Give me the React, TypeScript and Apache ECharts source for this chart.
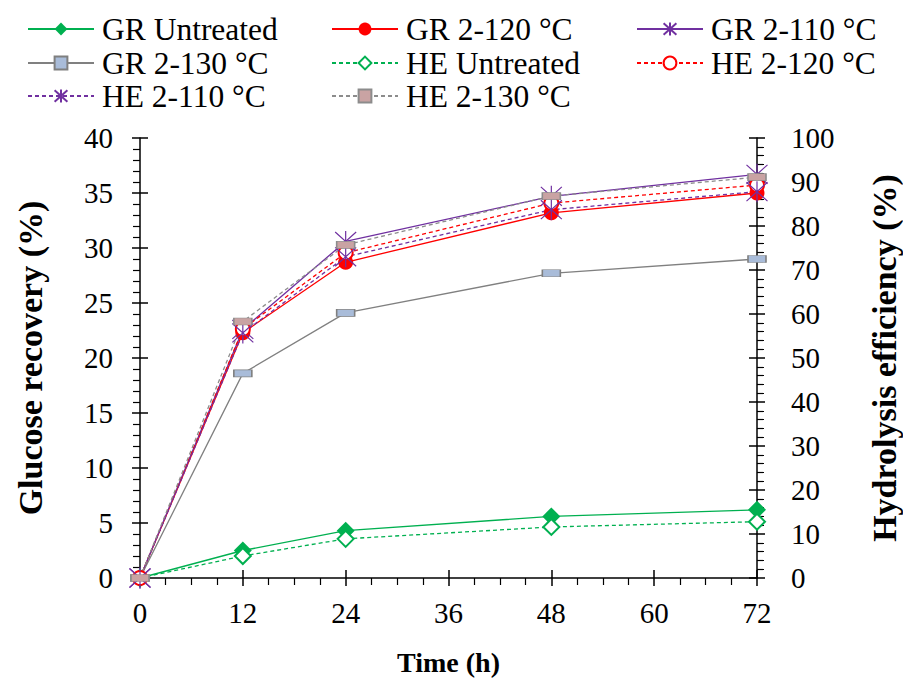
import React, { useEffect, useRef } from "react";
import * as echarts from "echarts";

const times = [0, 12, 24, 48, 72];
const grUntreated = [0, 2.5, 4.3, 5.6, 6.2];
const gr120 = [0, 22.3, 28.7, 33.2, 35.0];
const gr110 = [0, 22.6, 30.6, 34.7, 36.7];
const gr130 = [0, 18.6, 24.1, 27.7, 29.0];
const heUntreated = [0, 5.0, 8.9, 11.6, 12.8];
const he120 = [0, 56.6, 73.9, 85.2, 89.3];
const he110 = [0, 55.7, 73.0, 83.7, 87.8];
const he130 = [0, 58.3, 75.7, 86.8, 91.1];

const seriesNames = [
  "GR Untreated",
  "GR 2-120 °C",
  "GR 2-110 °C",
  "GR 2-130 °C",
  "HE Untreated",
  "HE 2-120 °C",
  "HE 2-110 °C",
  "HE 2-130 °C",
];

const FONT = "'Liberation Serif', 'Times New Roman', serif";
const STAR = "path://M0,-10 L0,10 M-9,-9 L9,9 M-9,9 L9,-9";

const GREEN = "#00b050";
const RED = "#ff0000";
const PURPLE = "#7030a0";
const GRAY = "#808080";

function pairs(vals: number[]) {
  return vals.map((v, i) => [times[i], v]);
}

export default function App() {
  const ref = useRef<HTMLDivElement>(null);
  useEffect(() => {
    if (!ref.current) return;
    const chart = echarts.init(ref.current, undefined, { renderer: "svg" });

    const legendPos = [
      [27, 13],
      [331, 13],
      [636, 13],
      [27, 47],
      [331, 47],
      [636, 47],
      [27, 80],
      [331, 80],
    ];

    const axisLine = { show: true, onZero: false, lineStyle: { color: "#000", width: 1.5 } };
    const noLine = { show: false, onZero: false };
    const labelStyle = { fontFamily: FONT, fontSize: 29, color: "#000" };
    const nameStyle = { fontFamily: FONT, fontSize: 34, fontWeight: "bold" as const, color: "#000" };
    const majorOut = { show: true, inside: false, length: 8, lineStyle: { color: "#000", width: 1.5 } };
    const majorIn = { show: true, inside: true, length: 8, lineStyle: { color: "#000", width: 1.5 } };

    const mk = (
      name: string,
      data: number[],
      yIdx: number,
      color: string,
      dashed: boolean,
      symbol: string,
      symbolSize: any,
      itemStyle: any
    ) => ({
      name,
      type: "line",
      yAxisIndex: yIdx,
      data: pairs(data),
      symbol,
      symbolSize,
      showSymbol: true,
      lineStyle: { color, width: 1.3, type: dashed ? [4, 3] : "solid" },
      itemStyle,
      emphasis: { disabled: true },
    });

    const option: any = {
      animation: false,
      backgroundColor: "#fff",
      textStyle: { fontFamily: FONT },
      legend: seriesNames.map((n, i) => ({
        data: [n],
        left: legendPos[i][0],
        top: legendPos[i][1],
        padding: 0,
        itemWidth: 66,
        itemHeight: 16,
        selectedMode: false,
        textStyle: { fontFamily: FONT, fontSize: 31.5, color: "#000", padding: [0, 0, 0, 3] },
      })),
      grid: {
        left: 140,
        right: 146,
        top: 138,
        bottom: 101,
        containLabel: false,
        outerBoundsMode: "none",
      },
      xAxis: [
        {
          type: "value",
          min: 0,
          max: 72,
          interval: 12,
          position: "bottom",
          name: "Time (h)",
          nameLocation: "middle",
          nameGap: 70,
          nameTextStyle: { ...nameStyle, fontSize: 28 },
          axisLine,
          axisTick: majorOut,
          minorTick: { show: true, splitNumber: 4, length: 7, lineStyle: { color: "#000", width: 1.2 } },
          axisLabel: { ...labelStyle, margin: 20 },
          splitLine: { show: false },
        },
        {
          type: "value",
          min: 0,
          max: 72,
          interval: 12,
          position: "bottom",
          axisLine: noLine,
          axisTick: majorIn,
          axisLabel: { show: false },
          splitLine: { show: false },
        },
      ],
      yAxis: [
        {
          type: "value",
          min: 0,
          max: 40,
          interval: 5,
          position: "left",
          name: "Glucose recovery (%)",
          nameLocation: "middle",
          nameRotate: 90,
          nameGap: 93,
          nameTextStyle: nameStyle,
          axisLine,
          axisTick: majorOut,
          minorTick: { show: true, splitNumber: 5, length: 7, lineStyle: { color: "#000", width: 1.2 } },
          axisLabel: { ...labelStyle, margin: 27 },
          splitLine: { show: false },
        },
        {
          type: "value",
          min: 0,
          max: 100,
          interval: 10,
          position: "right",
          name: "Hydrolysis efficiency (%)",
          nameLocation: "middle",
          nameRotate: 90,
          nameGap: 110,
          nameTextStyle: nameStyle,
          axisLine,
          axisTick: majorOut,
          minorTick: { show: true, splitNumber: 5, length: 7, lineStyle: { color: "#000", width: 1.2 } },
          axisLabel: { ...labelStyle, margin: 34 },
          splitLine: { show: false },
        },
        {
          type: "value",
          min: 0,
          max: 40,
          interval: 5,
          position: "left",
          axisLine: noLine,
          axisTick: majorIn,
          axisLabel: { show: false },
          splitLine: { show: false },
        },
        {
          type: "value",
          min: 0,
          max: 100,
          interval: 10,
          position: "right",
          axisLine: noLine,
          axisTick: majorIn,
          axisLabel: { show: false },
          splitLine: { show: false },
        },
      ],
      series: [
        mk(seriesNames[0], grUntreated, 0, GREEN, false, "diamond", 18, { color: GREEN }),
        mk(seriesNames[1], gr120, 0, RED, false, "circle", 15, { color: RED }),
        mk(seriesNames[2], gr110, 0, PURPLE, false, STAR, 21, {
          color: "transparent",
          borderColor: PURPLE,
          borderWidth: 1.2,
        }),
        mk(seriesNames[3], gr130, 0, GRAY, false, "rect", [18, 7], {
          color: "#a9bcd9",
          borderColor: "#7f7f7f",
          borderWidth: 1,
        }),
        mk(seriesNames[4], heUntreated, 1, GREEN, true, "emptyDiamond", 16, {
          color: GREEN,
          borderColor: GREEN,
          borderWidth: 1.5,
        }),
        mk(seriesNames[5], he120, 1, RED, true, "emptyCircle", 14, {
          color: RED,
          borderColor: RED,
          borderWidth: 1.2,
        }),
        mk(seriesNames[6], he110, 1, PURPLE, true, STAR, 21, {
          color: "transparent",
          borderColor: PURPLE,
          borderWidth: 1.2,
        }),
        mk(seriesNames[7], he130, 1, "#8c8c8c", true, "rect", [18, 7], {
          color: "#c9a3a3",
          borderColor: "#8c8c8c",
          borderWidth: 1,
        }),
      ],
    };

    chart.setOption(option);
    return () => chart.dispose();
  }, []);

  return <div ref={ref} style={{ width: 903, height: 679, position: "absolute", left: 0, top: 0 }} />;
}
